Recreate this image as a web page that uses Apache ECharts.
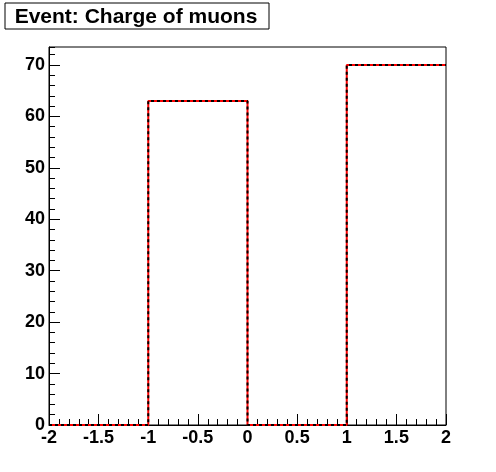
<!DOCTYPE html>
<html>
<head>
<meta charset="utf-8">
<script src="https://cdn.jsdelivr.net/npm/echarts@6/dist/echarts.min.js"></script>
<style>
  html, body { margin: 0; padding: 0; background: #fff; }
  #main { width: 496px; height: 472px; }
</style>
</head>
<body>
<div id="main"></div>
<script>
const titleText = 'Event: Charge of muons';
const binEdges = [-2, -1, 0, 1, 2];
const binCounts = [0, 63, 0, 70];
const yMax = 73.5;

// step points: each bin starts at its low edge, last point closes the final bin
const stepData = binCounts.map((c, i) => [binEdges[i], c]);
stepData.push([binEdges[binEdges.length - 1], binCounts[binCounts.length - 1]]);

const labelFont = { color: '#000', fontFamily: 'Liberation Sans', fontWeight: 'bold', fontSize: 18 };

const chart = echarts.init(document.getElementById('main'));
chart.setOption({
  animation: false,
  graphic: [
    {
      type: 'rect',
      shape: { x: 5, y: 3, width: 264, height: 26 },
      style: { fill: '#fff', stroke: '#000', lineWidth: 1 }
    },
    {
      type: 'text',
      x: 136, y: 17,
      style: {
        text: titleText,
        fill: '#000',
        font: 'bold 21px "Liberation Sans"',
        align: 'center',
        verticalAlign: 'middle'
      }
    }
  ],
  grid: {
    left: 49, right: 50, top: 47, bottom: 47,
    show: true, borderColor: '#000', borderWidth: 1
  },
  xAxis: {
    type: 'value',
    min: -2, max: 2, interval: 0.5,
    axisLine: { onZero: false, lineStyle: { color: '#000', width: 1 } },
    axisTick: { inside: true, length: 11, lineStyle: { color: '#000' } },
    minorTick: { show: true, splitNumber: 5, length: 6, lineStyle: { color: '#000' } },
    splitLine: { show: false },
    axisLabel: Object.assign({ margin: 4 }, labelFont)
  },
  yAxis: [
    {
      type: 'value',
      min: 0, max: yMax, interval: 10,
      axisLine: { show: true, onZero: false, lineStyle: { color: '#000', width: 1 } },
      axisTick: { show: true, inside: true, length: 11, lineStyle: { color: '#000' } },
      splitLine: { show: false },
      axisLabel: Object.assign({ margin: 4, showMaxLabel: false }, labelFont)
    },
    {
      // minor ticks every 2 units
      type: 'value',
      position: 'left',
      min: 0, max: yMax, interval: 2,
      axisLine: { show: false, onZero: false },
      axisTick: { show: true, inside: true, length: 6, lineStyle: { color: '#000' } },
      splitLine: { show: false },
      axisLabel: { show: false }
    }
  ],
  series: [
    {
      type: 'line',
      step: 'end',
      data: stepData,
      symbol: 'none',
      lineStyle: { color: '#ff0000', width: 2 },
      z: 3
    },
    {
      type: 'line',
      step: 'end',
      data: stepData,
      symbol: 'none',
      lineStyle: { color: '#000', width: 2, type: [3, 3] },
      z: 4
    }
  ]
});
</script>
</body>
</html>
